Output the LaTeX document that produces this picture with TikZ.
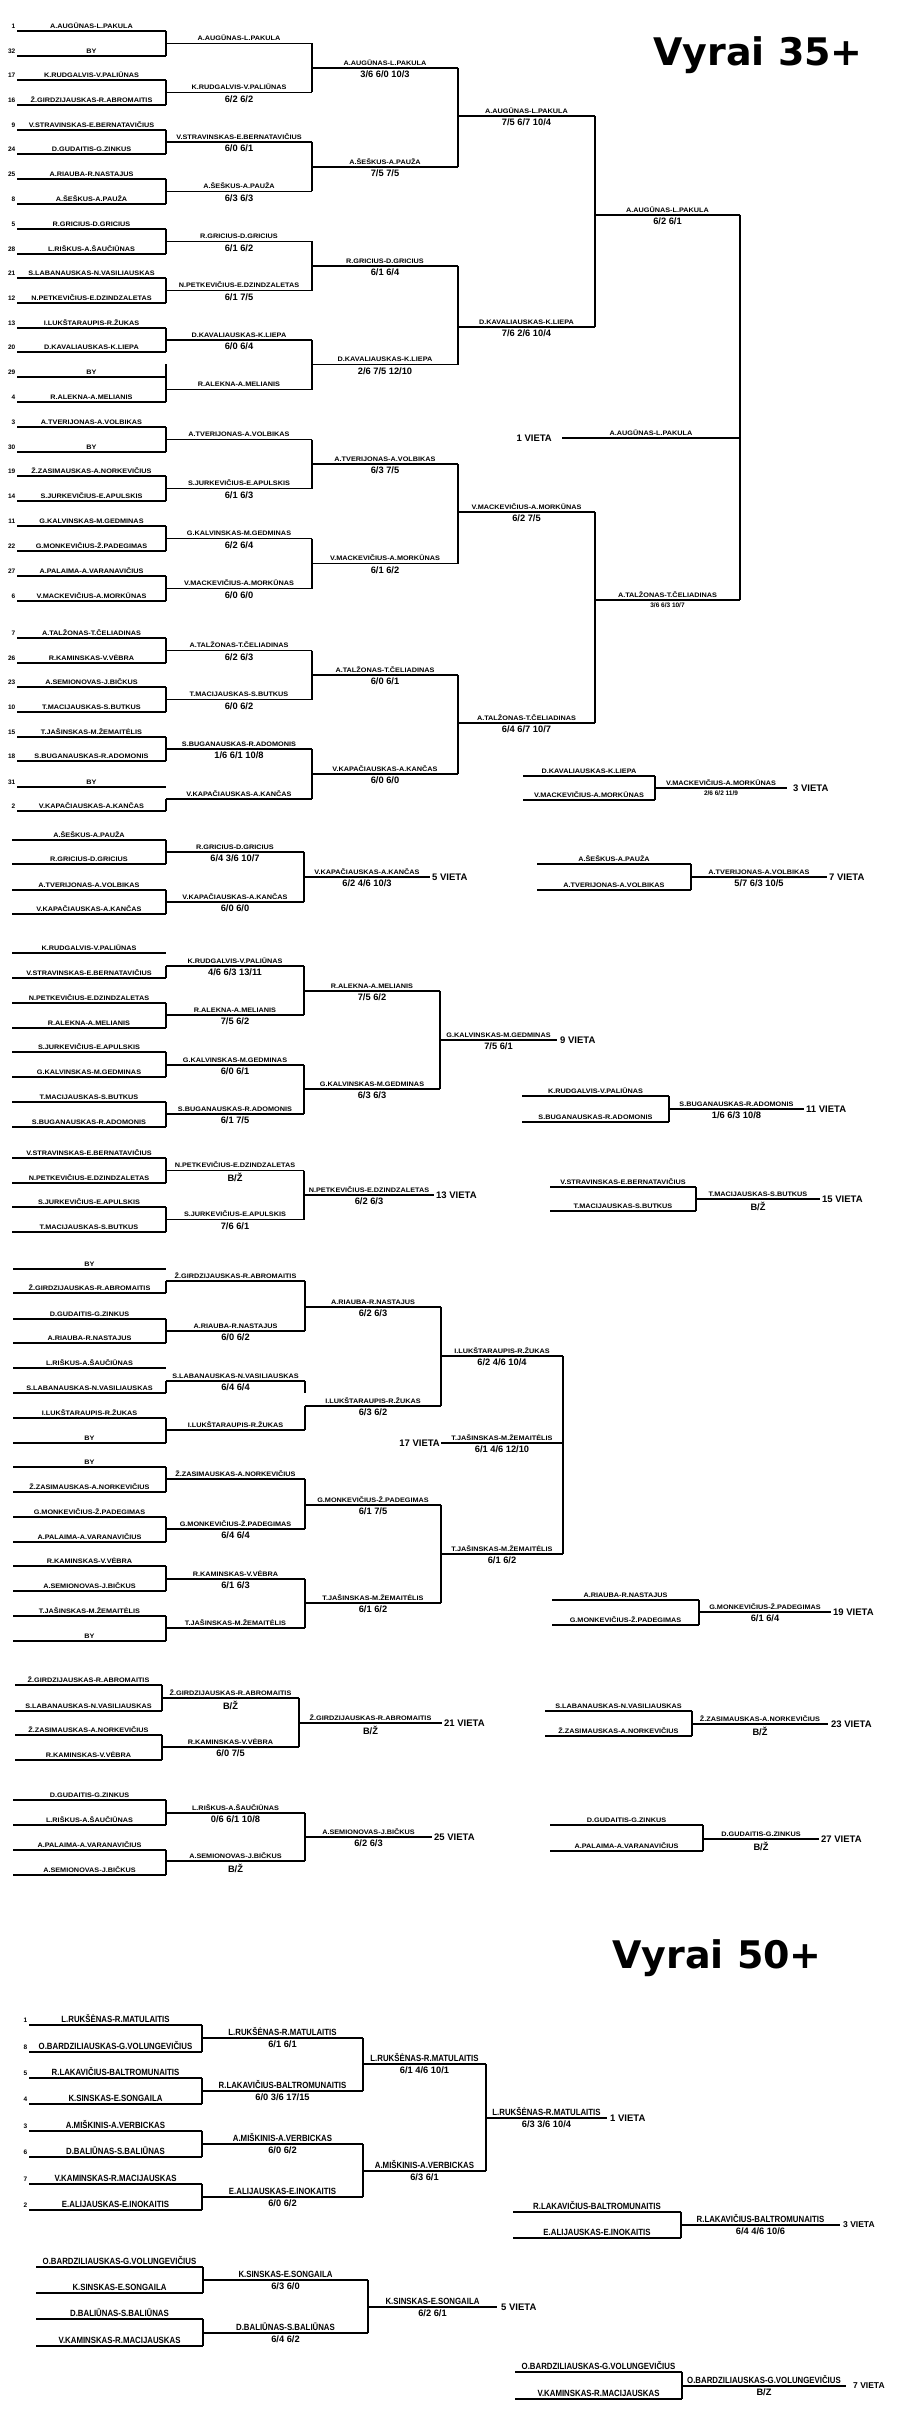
\documentclass[tikz,border=0pt]{standalone}
\usepackage{fontspec}
\setmainfont{Liberation Sans}
\newfontfamily\widefont{Liberation Sans}[FakeStretch=1.12]
\newfontfamily\narrowfont{Liberation Sans}[FakeStretch=0.87]
\newfontfamily\titlefont{DejaVu Sans}
\usetikzlibrary{calc,positioning}

\newcommand{\nmfont}{\widefont\bfseries\fontsize{6.5}{7}\selectfont}
\newcommand{\nmfontB}{\narrowfont\bfseries\fontsize{9}{10}\selectfont}
\newcommand{\scfont}{\bfseries\fontsize{9.3}{10}\selectfont}
\newcommand{\tinyscore}{\bfseries\fontsize{6.5}{7}\selectfont}
\newcommand{\seedfont}{\bfseries\fontsize{6.5}{7}\selectfont}
\newcommand{\placefont}{\bfseries\fontsize{9.5}{10}\selectfont}

% one match line: id, x from, x to, y, pair, score
\newcommand{\game}[6]{%
  \draw[bline] (#2,#4) coordinate (#1a) -- (#3,#4) coordinate (#1b);
  \node[nm] (#1n) at ($(#1a)!.5!(#1b)$) {#5};
  \if\relax\detokenize{#6}\relax\else
    \node[sc] (#1s) at ($(#1a)!.5!(#1b)$) {#6};
  \fi}
\newcommand{\seedno}[2]{\node[seed] (sd#1) at (#1a) {#2};}
\newcommand{\pairup}[2]{\draw[bline] (#1b) -- (#2b);}

\begin{document}
\begin{tikzpicture}[x=1pt, y=-1pt,
    bline/.style={line width=1.8pt},
    nm/.style={font=\nmfont, anchor=base, yshift=2.6pt, inner sep=0pt},
    sc/.style={font=\scfont, anchor=north, yshift=-2.6pt, inner sep=0pt},
    seed/.style={font=\seedfont, anchor=base east, xshift=-1.5pt, yshift=2.6pt, inner sep=0pt},
    vieta/.style={font=\placefont, inner sep=0pt},
    heading/.style={font=\titlefont\bfseries\fontsize{38}{40}\selectfont, anchor=base west, inner sep=0pt}
]
\useasboundingbox (0,0) rectangle (907,2416);

% ---------- Vyrai 35+ ----------
\node[heading] (title35) at (653,66) {Vyrai 35+};

% first round
\game{m1}{17}{166}{31}{A.AUGŪNAS-L.PAKULA}{} \seedno{m1}{1}
\game{m2}{17}{166}{56}{BY}{} \seedno{m2}{32}
\game{m3}{17}{166}{80}{K.RUDGALVIS-V.PALIŪNAS}{} \seedno{m3}{17}
\game{m4}{17}{166}{105}{Ž.GIRDZIJAUSKAS-R.ABROMAITIS}{} \seedno{m4}{16}
\game{m5}{17}{166}{130}{V.STRAVINSKAS-E.BERNATAVIČIUS}{} \seedno{m5}{9}
\game{m6}{17}{166}{154}{D.GUDAITIS-G.ZINKUS}{} \seedno{m6}{24}
\game{m7}{17}{166}{179}{A.RIAUBA-R.NASTAJUS}{} \seedno{m7}{25}
\game{m8}{17}{166}{204}{A.ŠEŠKUS-A.PAUŽA}{} \seedno{m8}{8}
\game{m9}{17}{166}{229}{R.GRICIUS-D.GRICIUS}{} \seedno{m9}{5}
\game{m10}{17}{166}{254}{L.RIŠKUS-A.ŠAUČIŪNAS}{} \seedno{m10}{28}
\game{m11}{17}{166}{278}{S.LABANAUSKAS-N.VASILIAUSKAS}{} \seedno{m11}{21}
\game{m12}{17}{166}{303}{N.PETKEVIČIUS-E.DZINDZALETAS}{} \seedno{m12}{12}
\game{m13}{17}{166}{328}{I.LUKŠTARAUPIS-R.ŽUKAS}{} \seedno{m13}{13}
\game{m14}{17}{166}{352}{D.KAVALIAUSKAS-K.LIEPA}{} \seedno{m14}{20}
\game{m15}{17}{166}{377}{BY}{} \seedno{m15}{29}
\game{m16}{17}{166}{402}{R.ALEKNA-A.MELIANIS}{} \seedno{m16}{4}
\game{m17}{17}{166}{427}{A.TVERIJONAS-A.VOLBIKAS}{} \seedno{m17}{3}
\game{m18}{17}{166}{452}{BY}{} \seedno{m18}{30}
\game{m19}{17}{166}{476}{Ž.ZASIMAUSKAS-A.NORKEVIČIUS}{} \seedno{m19}{19}
\game{m20}{17}{166}{501}{S.JURKEVIČIUS-E.APULSKIS}{} \seedno{m20}{14}
\game{m21}{17}{166}{526}{G.KALVINSKAS-M.GEDMINAS}{} \seedno{m21}{11}
\game{m22}{17}{166}{551}{G.MONKEVIČIUS-Ž.PADEGIMAS}{} \seedno{m22}{22}
\game{m23}{17}{166}{576}{A.PALAIMA-A.VARANAVIČIUS}{} \seedno{m23}{27}
\game{m24}{17}{166}{601}{V.MACKEVIČIUS-A.MORKŪNAS}{} \seedno{m24}{6}
\game{m25}{17}{166}{638}{A.TALŽONAS-T.ČELIADINAS}{} \seedno{m25}{7}
\game{m26}{17}{166}{663}{R.KAMINSKAS-V.VĖBRA}{} \seedno{m26}{26}
\game{m27}{17}{166}{687}{A.SEMIONOVAS-J.BIČKUS}{} \seedno{m27}{23}
\game{m28}{17}{166}{712}{T.MACIJAUSKAS-S.BUTKUS}{} \seedno{m28}{10}
\game{m29}{17}{166}{737}{T.JAŠINSKAS-M.ŽEMAITĖLIS}{} \seedno{m29}{15}
\game{m30}{17}{166}{761}{S.BUGANAUSKAS-R.ADOMONIS}{} \seedno{m30}{18}
\game{m31}{17}{166}{787}{BY}{} \seedno{m31}{31}
\game{m32}{17}{166}{811}{V.KAPAČIAUSKAS-A.KANČAS}{} \seedno{m32}{2}
\foreach \i in {1,3,...,29} {
  \pgfmathtruncatemacro{\j}{\i+1}
  \pairup{m\i}{m\j}
}
\draw[bline] (m16b) -- ++(0,-38);

% second round
\game{p1}{166}{312}{43.5}{A.AUGŪNAS-L.PAKULA}{}
\game{p2}{166}{312}{92.5}{K.RUDGALVIS-V.PALIŪNAS}{6/2 6/2}
\game{p3}{166}{312}{142}{V.STRAVINSKAS-E.BERNATAVIČIUS}{6/0 6/1}
\game{p4}{166}{312}{191.5}{A.ŠEŠKUS-A.PAUŽA}{6/3 6/3}
\game{p5}{166}{312}{241.5}{R.GRICIUS-D.GRICIUS}{6/1 6/2}
\game{p6}{166}{312}{290.5}{N.PETKEVIČIUS-E.DZINDZALETAS}{6/1 7/5}
\game{p7}{166}{312}{340}{D.KAVALIAUSKAS-K.LIEPA}{6/0 6/4}
\game{p8}{166}{312}{389.5}{R.ALEKNA-A.MELIANIS}{}
\game{p9}{166}{312}{439.5}{A.TVERIJONAS-A.VOLBIKAS}{}
\game{p10}{166}{312}{488.5}{S.JURKEVIČIUS-E.APULSKIS}{6/1 6/3}
\game{p11}{166}{312}{538.5}{G.KALVINSKAS-M.GEDMINAS}{6/2 6/4}
\game{p12}{166}{312}{588.5}{V.MACKEVIČIUS-A.MORKŪNAS}{6/0 6/0}
\game{p13}{166}{312}{650.5}{A.TALŽONAS-T.ČELIADINAS}{6/2 6/3}
\game{p14}{166}{312}{699.5}{T.MACIJAUSKAS-S.BUTKUS}{6/0 6/2}
\game{p15}{166}{312}{749}{S.BUGANAUSKAS-R.ADOMONIS}{1/6 6/1 10/8}
\game{p16}{166}{312}{799}{V.KAPAČIAUSKAS-A.KANČAS}{}
\draw[bline] (p16a) -- (m32b);
\foreach \i in {1,3,...,15} {
  \pgfmathtruncatemacro{\j}{\i+1}
  \pairup{p\i}{p\j}
}

% third round
\game{q1}{312}{458}{68}{A.AUGŪNAS-L.PAKULA}{3/6 6/0 10/3}
\game{q2}{312}{458}{167}{A.ŠEŠKUS-A.PAUŽA}{7/5 7/5}
\game{q3}{312}{458}{266}{R.GRICIUS-D.GRICIUS}{6/1 6/4}
\game{q4}{312}{458}{364.5}{D.KAVALIAUSKAS-K.LIEPA}{2/6 7/5 12/10}
\game{q5}{312}{458}{464}{A.TVERIJONAS-A.VOLBIKAS}{6/3 7/5}
\game{q6}{312}{458}{563.5}{V.MACKEVIČIUS-A.MORKŪNAS}{6/1 6/2}
\game{q7}{312}{458}{675}{A.TALŽONAS-T.ČELIADINAS}{6/0 6/1}
\game{q8}{312}{458}{774}{V.KAPAČIAUSKAS-A.KANČAS}{6/0 6/0}
\pairup{q1}{q2} \pairup{q3}{q4} \pairup{q5}{q6} \pairup{q7}{q8}

% quarter and semi
\game{r1}{458}{595}{116}{A.AUGŪNAS-L.PAKULA}{7/5 6/7 10/4}
\game{r2}{458}{595}{327}{D.KAVALIAUSKAS-K.LIEPA}{7/6 2/6 10/4}
\game{r3}{458}{595}{512}{V.MACKEVIČIUS-A.MORKŪNAS}{6/2 7/5}
\game{r4}{458}{595}{723}{A.TALŽONAS-T.ČELIADINAS}{6/4 6/7 10/7}
\pairup{r1}{r2} \pairup{r3}{r4}
\game{s1}{595}{740}{215}{A.AUGŪNAS-L.PAKULA}{6/2 6/1}
\game{s2}{595}{740}{600}{A.TALŽONAS-T.ČELIADINAS}{{\tinyscore 3/6 6/3 10/7}}
\pairup{s1}{s2}

% final
\game{fin}{562}{740}{438}{A.AUGŪNAS-L.PAKULA}{}
\node[vieta, left=10pt of fina] (v1) {1 VIETA};

% third place
\game{t1}{523}{655}{776}{D.KAVALIAUSKAS-K.LIEPA}{}
\game{t2}{523}{655}{800}{V.MACKEVIČIUS-A.MORKŪNAS}{}
\pairup{t1}{t2}
\game{t3}{655}{787}{788}{V.MACKEVIČIUS-A.MORKŪNAS}{{\tinyscore 2/6 6/2 11/9}}
\node[vieta, right=6pt of t3b] (v3) {3 VIETA};

% 5 vieta
\game{e1}{12}{166}{840}{A.ŠEŠKUS-A.PAUŽA}{}
\game{e2}{12}{166}{864}{R.GRICIUS-D.GRICIUS}{}
\game{e3}{12}{166}{890}{A.TVERIJONAS-A.VOLBIKAS}{}
\game{e4}{12}{166}{914}{V.KAPAČIAUSKAS-A.KANČAS}{}
\pairup{e1}{e2} \pairup{e3}{e4}
\game{e5}{166}{304}{852}{R.GRICIUS-D.GRICIUS}{6/4 3/6 10/7}
\game{e6}{166}{304}{902}{V.KAPAČIAUSKAS-A.KANČAS}{6/0 6/0}
\pairup{e5}{e6}
\game{e7}{304}{430}{877}{V.KAPAČIAUSKAS-A.KANČAS}{6/2 4/6 10/3}
\node[vieta, right=2pt of e7b] (v5) {5 VIETA};

% 7 vieta
\game{g1}{537}{691}{864}{A.ŠEŠKUS-A.PAUŽA}{}
\game{g2}{537}{691}{890}{A.TVERIJONAS-A.VOLBIKAS}{}
\pairup{g1}{g2}
\game{g3}{691}{827}{877}{A.TVERIJONAS-A.VOLBIKAS}{5/7 6/3 10/5}
\node[vieta, right=2pt of g3b] (v7) {7 VIETA};

% 9 vieta
\game{h1}{12}{166}{953}{K.RUDGALVIS-V.PALIŪNAS}{}
\game{h2}{12}{166}{978}{V.STRAVINSKAS-E.BERNATAVIČIUS}{}
\game{h3}{12}{166}{1003}{N.PETKEVIČIUS-E.DZINDZALETAS}{}
\game{h4}{12}{166}{1028}{R.ALEKNA-A.MELIANIS}{}
\game{h5}{12}{166}{1052}{S.JURKEVIČIUS-E.APULSKIS}{}
\game{h6}{12}{166}{1077}{G.KALVINSKAS-M.GEDMINAS}{}
\game{h7}{12}{166}{1102}{T.MACIJAUSKAS-S.BUTKUS}{}
\game{h8}{12}{166}{1127}{S.BUGANAUSKAS-R.ADOMONIS}{}
\game{h9}{166}{304}{966}{K.RUDGALVIS-V.PALIŪNAS}{4/6 6/3 13/11}
\game{h10}{166}{304}{1015}{R.ALEKNA-A.MELIANIS}{7/5 6/2}
\game{h11}{166}{304}{1065}{G.KALVINSKAS-M.GEDMINAS}{6/0 6/1}
\game{h12}{166}{304}{1114}{S.BUGANAUSKAS-R.ADOMONIS}{6/1 7/5}
\draw[bline] (h9a) -- (h2b);
\pairup{h3}{h4} \pairup{h5}{h6} \pairup{h7}{h8}
\pairup{h9}{h10} \pairup{h11}{h12}
\game{h13}{304}{440}{991}{R.ALEKNA-A.MELIANIS}{7/5 6/2}
\game{h14}{304}{440}{1089}{G.KALVINSKAS-M.GEDMINAS}{6/3 6/3}
\pairup{h13}{h14}
\game{h15}{440}{557}{1040}{G.KALVINSKAS-M.GEDMINAS}{7/5 6/1}
\node[vieta, right=3pt of h15b] (v9) {9 VIETA};

% 11 vieta
\game{k1}{522}{669}{1096}{K.RUDGALVIS-V.PALIŪNAS}{}
\game{k2}{522}{669}{1122}{S.BUGANAUSKAS-R.ADOMONIS}{}
\pairup{k1}{k2}
\game{k3}{669}{804}{1109}{S.BUGANAUSKAS-R.ADOMONIS}{1/6 6/3 10/8}
\node[vieta, right=2pt of k3b] (v11) {11 VIETA};

% 13 vieta
\game{n1}{12}{166}{1158}{V.STRAVINSKAS-E.BERNATAVIČIUS}{}
\game{n2}{12}{166}{1183}{N.PETKEVIČIUS-E.DZINDZALETAS}{}
\game{n3}{12}{166}{1207}{S.JURKEVIČIUS-E.APULSKIS}{}
\game{n4}{12}{166}{1232}{T.MACIJAUSKAS-S.BUTKUS}{}
\pairup{n1}{n2} \pairup{n3}{n4}
\game{n5}{166}{304}{1170.5}{N.PETKEVIČIUS-E.DZINDZALETAS}{B/Ž}
\game{n6}{166}{304}{1219.5}{S.JURKEVIČIUS-E.APULSKIS}{7/6 6/1}
\pairup{n5}{n6}
\game{n7}{304}{434}{1195}{N.PETKEVIČIUS-E.DZINDZALETAS}{6/2 6/3}
\node[vieta, right=2pt of n7b] (v13) {13 VIETA};

% 15 vieta
\game{o1}{550}{696}{1187}{V.STRAVINSKAS-E.BERNATAVIČIUS}{}
\game{o2}{550}{696}{1211}{T.MACIJAUSKAS-S.BUTKUS}{}
\pairup{o1}{o2}
\game{o3}{696}{820}{1199}{T.MACIJAUSKAS-S.BUTKUS}{B/Ž}
\node[vieta, right=2pt of o3b] (v15) {15 VIETA};

% 17 vieta
\game{w1}{13}{166}{1269}{BY}{}
\game{w2}{13}{166}{1293}{Ž.GIRDZIJAUSKAS-R.ABROMAITIS}{}
\game{w3}{13}{166}{1319}{D.GUDAITIS-G.ZINKUS}{}
\game{w4}{13}{166}{1343}{A.RIAUBA-R.NASTAJUS}{}
\game{w5}{13}{166}{1368}{L.RIŠKUS-A.ŠAUČIŪNAS}{}
\game{w6}{13}{166}{1393}{S.LABANAUSKAS-N.VASILIAUSKAS}{}
\game{w7}{13}{166}{1418}{I.LUKŠTARAUPIS-R.ŽUKAS}{}
\game{w8}{13}{166}{1443}{BY}{}
\game{w9}{13}{166}{1467}{BY}{}
\game{w10}{13}{166}{1492}{Ž.ZASIMAUSKAS-A.NORKEVIČIUS}{}
\game{w11}{13}{166}{1517}{G.MONKEVIČIUS-Ž.PADEGIMAS}{}
\game{w12}{13}{166}{1542}{A.PALAIMA-A.VARANAVIČIUS}{}
\game{w13}{13}{166}{1566}{R.KAMINSKAS-V.VĖBRA}{}
\game{w14}{13}{166}{1591}{A.SEMIONOVAS-J.BIČKUS}{}
\game{w15}{13}{166}{1616}{T.JAŠINSKAS-M.ŽEMAITĖLIS}{}
\game{w16}{13}{166}{1641}{BY}{}
\game{w17}{166}{305}{1281}{Ž.GIRDZIJAUSKAS-R.ABROMAITIS}{}
\game{w18}{166}{305}{1331}{A.RIAUBA-R.NASTAJUS}{6/0 6/2}
\game{w19}{166}{305}{1381}{S.LABANAUSKAS-N.VASILIAUSKAS}{6/4 6/4}
\game{w20}{166}{305}{1430}{I.LUKŠTARAUPIS-R.ŽUKAS}{}
\game{w21}{166}{305}{1479}{Ž.ZASIMAUSKAS-A.NORKEVIČIUS}{}
\game{w22}{166}{305}{1529}{G.MONKEVIČIUS-Ž.PADEGIMAS}{6/4 6/4}
\game{w23}{166}{305}{1579}{R.KAMINSKAS-V.VĖBRA}{6/1 6/3}
\game{w24}{166}{305}{1628}{T.JAŠINSKAS-M.ŽEMAITĖLIS}{}
\draw[bline] (w17a) -- (w2b);
\draw[bline] (w19a) -- (w6b);
\pairup{w3}{w4} \pairup{w7}{w8} \pairup{w9}{w10}
\pairup{w11}{w12} \pairup{w13}{w14} \pairup{w15}{w16}
\game{w25}{305}{441}{1307}{A.RIAUBA-R.NASTAJUS}{6/2 6/3}
\game{w26}{305}{441}{1406}{I.LUKŠTARAUPIS-R.ŽUKAS}{6/3 6/2}
\game{w27}{305}{441}{1505}{G.MONKEVIČIUS-Ž.PADEGIMAS}{6/1 7/5}
\game{w28}{305}{441}{1603}{T.JAŠINSKAS-M.ŽEMAITĖLIS}{6/1 6/2}
\pairup{w17}{w18} \pairup{w21}{w22} \pairup{w23}{w24}
\draw[bline] (w19b) -- ++(0,12);
\draw[bline] (w26a) -- (w20b);
\pairup{w25}{w26} \pairup{w27}{w28}
\game{w29}{441}{563}{1356}{I.LUKŠTARAUPIS-R.ŽUKAS}{6/2 4/6 10/4}
\game{w30}{441}{563}{1554}{T.JAŠINSKAS-M.ŽEMAITĖLIS}{6/1 6/2}
\pairup{w29}{w30}
\game{w31}{441}{563}{1443}{T.JAŠINSKAS-M.ŽEMAITĖLIS}{6/1 4/6 12/10}
\node[vieta, left=1pt of w31a] (v17) {17 VIETA};

% 19 vieta
\game{x1}{552}{699}{1600}{A.RIAUBA-R.NASTAJUS}{}
\game{x2}{552}{699}{1625}{G.MONKEVIČIUS-Ž.PADEGIMAS}{}
\pairup{x1}{x2}
\game{x3}{699}{831}{1612}{G.MONKEVIČIUS-Ž.PADEGIMAS}{6/1 6/4}
\node[vieta, right=2pt of x3b] (v19) {19 VIETA};

% 21 vieta
\game{y1}{15}{162}{1685}{Ž.GIRDZIJAUSKAS-R.ABROMAITIS}{}
\game{y2}{15}{162}{1711}{S.LABANAUSKAS-N.VASILIAUSKAS}{}
\game{y3}{15}{162}{1735}{Ž.ZASIMAUSKAS-A.NORKEVIČIUS}{}
\game{y4}{15}{162}{1760}{R.KAMINSKAS-V.VĖBRA}{}
\pairup{y1}{y2} \pairup{y3}{y4}
\game{y5}{162}{299}{1698}{Ž.GIRDZIJAUSKAS-R.ABROMAITIS}{B/Ž}
\game{y6}{162}{299}{1747}{R.KAMINSKAS-V.VĖBRA}{6/0 7/5}
\pairup{y5}{y6}
\game{y7}{299}{442}{1723}{Ž.GIRDZIJAUSKAS-R.ABROMAITIS}{B/Ž}
\node[vieta, right=2pt of y7b] (v21) {21 VIETA};

% 23 vieta
\game{c1}{545}{692}{1711}{S.LABANAUSKAS-N.VASILIAUSKAS}{}
\game{c2}{545}{692}{1736}{Ž.ZASIMAUSKAS-A.NORKEVIČIUS}{}
\pairup{c1}{c2}
\game{c3}{692}{828}{1724}{Ž.ZASIMAUSKAS-A.NORKEVIČIUS}{B/Ž}
\node[vieta, right=3pt of c3b] (v23) {23 VIETA};

% 25 vieta
\game{z1}{13}{166}{1800}{D.GUDAITIS-G.ZINKUS}{}
\game{z2}{13}{166}{1825}{L.RIŠKUS-A.ŠAUČIŪNAS}{}
\game{z3}{13}{166}{1850}{A.PALAIMA-A.VARANAVIČIUS}{}
\game{z4}{13}{166}{1875}{A.SEMIONOVAS-J.BIČKUS}{}
\pairup{z1}{z2} \pairup{z3}{z4}
\game{z5}{166}{305}{1813}{L.RIŠKUS-A.ŠAUČIŪNAS}{0/6 6/1 10/8}
\game{z6}{166}{305}{1861}{A.SEMIONOVAS-J.BIČKUS}{B/Ž}
\pairup{z5}{z6}
\game{z7}{305}{432}{1837}{A.SEMIONOVAS-J.BIČKUS}{6/2 6/3}
\node[vieta, right=2pt of z7b] (v25) {25 VIETA};

% 27 vieta
\game{d1}{550}{703}{1825}{D.GUDAITIS-G.ZINKUS}{}
\game{d2}{550}{703}{1851}{A.PALAIMA-A.VARANAVIČIUS}{}
\pairup{d1}{d2}
\game{d3}{703}{819}{1839}{D.GUDAITIS-G.ZINKUS}{B/Ž}
\node[vieta, right=2pt of d3b] (v27) {27 VIETA};

% ---------- Vyrai 50+ ----------
\node[heading] (title50) at (612,1968) {Vyrai 50+};
\begin{scope}[nm/.style={font=\nmfontB, anchor=base, yshift=2.6pt, inner sep=0pt}]
\game{u1}{29}{202}{2025}{L.RUKŠĖNAS-R.MATULAITIS}{} \seedno{u1}{1}
\game{u2}{29}{202}{2052}{O.BARDZILIAUSKAS-G.VOLUNGEVIČIUS}{} \seedno{u2}{8}
\game{u3}{29}{202}{2078}{R.LAKAVIČIUS-BALTROMUNAITIS}{} \seedno{u3}{5}
\game{u4}{29}{202}{2104}{K.SINSKAS-E.SONGAILA}{} \seedno{u4}{4}
\game{u5}{29}{202}{2131}{A.MIŠKINIS-A.VERBICKAS}{} \seedno{u5}{3}
\game{u6}{29}{202}{2157}{D.BALIŪNAS-S.BALIŪNAS}{} \seedno{u6}{6}
\game{u7}{29}{202}{2184}{V.KAMINSKAS-R.MACIJAUSKAS}{} \seedno{u7}{7}
\game{u8}{29}{202}{2210}{E.ALIJAUSKAS-E.INOKAITIS}{} \seedno{u8}{2}
\pairup{u1}{u2} \pairup{u3}{u4} \pairup{u5}{u6} \pairup{u7}{u8}
\game{u9}{202}{363}{2038}{L.RUKŠĖNAS-R.MATULAITIS}{6/1 6/1}
\game{u10}{202}{363}{2091}{R.LAKAVIČIUS-BALTROMUNAITIS}{6/0 3/6 17/15}
\game{u11}{202}{363}{2144}{A.MIŠKINIS-A.VERBICKAS}{6/0 6/2}
\game{u12}{202}{363}{2197}{E.ALIJAUSKAS-E.INOKAITIS}{6/0 6/2}
\pairup{u9}{u10} \pairup{u11}{u12}
\game{u13}{363}{486}{2064}{L.RUKŠĖNAS-R.MATULAITIS}{6/1 4/6 10/1}
\game{u14}{363}{486}{2171}{A.MIŠKINIS-A.VERBICKAS}{6/3 6/1}
\pairup{u13}{u14}
\game{u15}{486}{607}{2118}{L.RUKŠĖNAS-R.MATULAITIS}{6/3 3/6 10/4}
\node[vieta, right=3pt of u15b] (w1st) {1 VIETA};

% 3 vieta
\game{i1}{513}{681}{2212}{R.LAKAVIČIUS-BALTROMUNAITIS}{}
\game{i2}{513}{681}{2238}{E.ALIJAUSKAS-E.INOKAITIS}{}
\pairup{i1}{i2}
\game{i3}{681}{840}{2225}{R.LAKAVIČIUS-BALTROMUNAITIS}{6/4 4/6 10/6}
\node[vieta, font=\bfseries\fontsize{8.5}{9}\selectfont, right=3pt of i3b] (w3rd) {3 VIETA};

% 5 vieta
\game{j1}{36}{203}{2267}{O.BARDZILIAUSKAS-G.VOLUNGEVIČIUS}{}
\game{j2}{36}{203}{2293}{K.SINSKAS-E.SONGAILA}{}
\game{j3}{36}{203}{2319}{D.BALIŪNAS-S.BALIŪNAS}{}
\game{j4}{36}{203}{2346}{V.KAMINSKAS-R.MACIJAUSKAS}{}
\pairup{j1}{j2} \pairup{j3}{j4}
\game{j5}{203}{368}{2280}{K.SINSKAS-E.SONGAILA}{6/3 6/0}
\game{j6}{203}{368}{2333}{D.BALIŪNAS-S.BALIŪNAS}{6/4 6/2}
\pairup{j5}{j6}
\game{j7}{368}{497}{2307}{K.SINSKAS-E.SONGAILA}{6/2 6/1}
\node[vieta, right=4pt of j7b] (w5th) {5 VIETA};

% 7 vieta
\game{l1}{515}{682}{2372}{O.BARDZILIAUSKAS-G.VOLUNGEVIČIUS}{}
\game{l2}{515}{682}{2399}{V.KAMINSKAS-R.MACIJAUSKAS}{}
\pairup{l1}{l2}
\game{l3}{682}{846}{2386}{O.BARDZILIAUSKAS-G.VOLUNGEVIČIUS}{B/Z}
\node[vieta, font=\bfseries\fontsize{8.5}{9}\selectfont, right=7pt of l3b] (w7th) {7 VIETA};
\end{scope}
\end{tikzpicture}
\end{document}
